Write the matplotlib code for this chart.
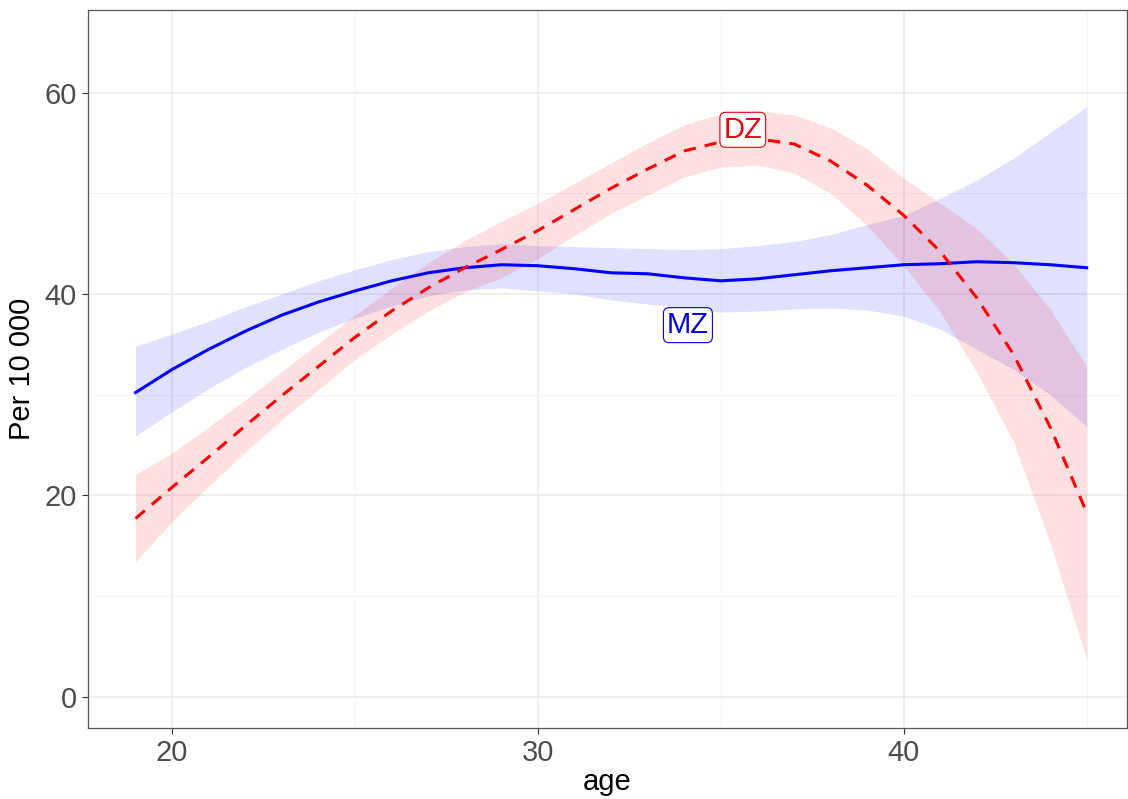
import numpy as np
import matplotlib
matplotlib.use("Agg")
import matplotlib.pyplot as plt
from matplotlib.ticker import MultipleLocator

plt.rcParams['font.family'] = ['Liberation Sans', 'DejaVu Sans']

# данные
age = np.arange(19, 46)

mz = [30.2, 32.5, 34.5, 36.3, 37.9, 39.2, 40.3, 41.3, 42.1, 42.6, 42.9, 42.8, 42.5, 42.1,
      42.0, 41.6, 41.3, 41.5, 41.9, 42.3, 42.6, 42.9, 43.0, 43.2, 43.1, 42.9, 42.6]
mz_hi = [34.8, 36.0, 37.3, 38.7, 40.0, 41.3, 42.4, 43.4, 44.2, 44.7, 45.0, 44.8, 44.7, 44.6,
         44.5, 44.4, 44.5, 44.8, 45.2, 45.9, 46.9, 47.8, 49.5, 51.3, 53.5, 56.0, 58.6]
mz_lo = [25.9, 28.3, 30.6, 32.7, 34.5, 36.2, 37.6, 38.8, 39.8, 40.4, 40.6, 40.3, 40.0, 39.4,
         39.0, 38.6, 38.2, 38.3, 38.5, 38.6, 38.4, 37.8, 36.5, 34.5, 32.5, 30.0, 26.8]

dz = [17.7, 20.8, 23.8, 26.9, 29.9, 32.8, 35.7, 38.3, 40.6, 42.6, 44.4, 46.3, 48.4, 50.5,
      52.4, 54.2, 55.1, 55.4, 54.9, 53.2, 50.8, 47.8, 44.2, 39.6, 34.0, 26.8, 18.3]
dz_hi = [22.1, 24.2, 26.8, 29.5, 32.3, 35.1, 37.9, 40.6, 43.1, 45.3, 47.2, 49.0, 51.0, 53.0,
         55.0, 56.8, 57.9, 58.2, 57.8, 56.5, 54.4, 51.5, 49.0, 46.5, 43.0, 38.5, 32.8]
dz_lo = [13.4, 17.4, 20.9, 24.3, 27.5, 30.5, 33.5, 36.0, 38.3, 40.2, 41.6, 43.5, 45.8, 48.0,
         49.8, 51.6, 52.6, 52.8, 52.0, 50.0, 46.8, 42.8, 38.2, 32.2, 25.3, 15.3, 3.7]

fig = plt.figure(figsize=(11.28, 7.99), dpi=100)
ax = fig.add_axes([0.078, 0.089, 0.921, 0.8985])

ax.fill_between(age, mz_lo, mz_hi, color='#0000ff', alpha=0.12, linewidth=0, zorder=2)
ax.fill_between(age, dz_lo, dz_hi, color='#ff0000', alpha=0.12, linewidth=0, zorder=2)
ax.plot(age, mz, color='#0000ff', lw=2.2, zorder=3)
ax.plot(age, dz, color='#ff0000', lw=2.2, linestyle=(0, (4, 3)), zorder=3)

ax.text(35.6, 56.3, 'DZ', color='#e8000b', fontsize=21, ha='center', va='center', zorder=4,
        bbox=dict(boxstyle='round,pad=0.12,rounding_size=0.2', fc='white', ec='#e8000b', lw=0.8))
ax.text(34.1, 36.9, 'MZ', color='#0000dd', fontsize=21, ha='center', va='center', zorder=4,
        bbox=dict(boxstyle='round,pad=0.12,rounding_size=0.2', fc='white', ec='#0000dd', lw=0.8))

ax.set_xlim(17.7, 46.1)
ax.set_ylim(-3.1, 68.2)
ax.xaxis.set_major_locator(MultipleLocator(10))
ax.xaxis.set_minor_locator(MultipleLocator(5))
ax.yaxis.set_major_locator(MultipleLocator(20))
ax.yaxis.set_minor_locator(MultipleLocator(10))
ax.grid(True, which='major', color='#ebebeb', lw=1.1, zorder=0)
ax.grid(True, which='minor', color='#f3f3f3', lw=0.6, zorder=0)
ax.set_axisbelow(True)
ax.tick_params(which='major', length=4, color='#333333', labelsize=21, labelcolor='#4d4d4d', pad=4)
ax.tick_params(which='minor', length=0)
for s in ax.spines.values():
    s.set_color('#555555')
    s.set_linewidth(0.9)

ax.set_xlabel('age', fontsize=21, labelpad=1)
ax.set_ylabel('Per 10 000', fontsize=21, labelpad=6)

fig.savefig('out.png', dpi=100)
